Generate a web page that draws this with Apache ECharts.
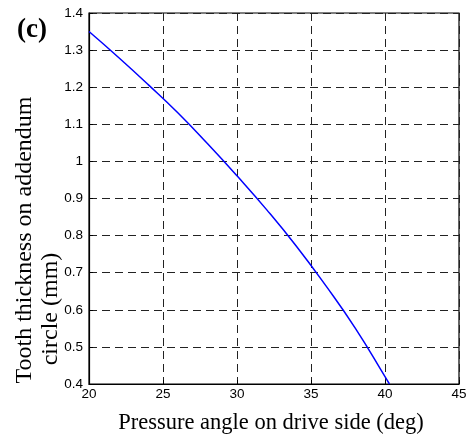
<!DOCTYPE html>
<html>
<head>
<meta charset="utf-8">
<script src="https://cdn.jsdelivr.net/npm/echarts@6/dist/echarts.min.js"></script>
<style>
  html, body { margin: 0; padding: 0; background: #fff; }
  #main { width: 469px; height: 436px; }
</style>
</head>
<body>
<div id="main"></div>
<script>
// pressure angle on drive side (deg)
const angleDeg = [20, 22, 24, 26, 28, 30, 32, 34, 36, 38, 40, 40.3];
// tooth thickness on addendum circle (mm)
const thickness = [1.35, 1.28, 1.207, 1.131, 1.048, 0.961, 0.87, 0.772, 0.665, 0.55, 0.42, 0.4];

const xTicks = [20, 25, 30, 35, 40, 45];
const yTicks = [0.4, 0.5, 0.6, 0.7, 0.8, 0.9, 1, 1.1, 1.2, 1.3, 1.4];

const lineData = angleDeg.map((x, i) => [x, thickness[i]]);

var myChart = echarts.init(document.getElementById("main"));

const gridLine = {
  show: true,
  lineStyle: { color: "#222", width: 1, type: [8, 5] },
};

const tickFont = { fontFamily: "Liberation Sans", fontSize: 13.5, color: "#000" };

var option = {
  animation: false,
  backgroundColor: "#fff",
  grid: {
    left: 89,
    right: 10,
    top: 13,
    bottom: 52,
    outerBoundsMode: "none",
    show: true,
    borderColor: "#000",
    borderWidth: 1.2,
  },
  xAxis: {
    type: "value",
    min: xTicks[0],
    max: xTicks[xTicks.length - 1],
    interval: 5,
    name: "Pressure angle on drive side (deg)",
    nameLocation: "middle",
    nameGap: 28,
    nameTextStyle: { fontFamily: "Liberation Serif", fontSize: 22.5, color: "#000", padding: [0, 6, 0, 0] },
    axisLine: { show: true, lineStyle: { color: "#000", width: 1.2 } },
    axisTick: { inside: true, length: 4, lineStyle: { color: "#000" } },
    axisLabel: Object.assign({ margin: 3 }, tickFont),
    splitLine: gridLine,
  },
  yAxis: {
    type: "value",
    min: yTicks[0],
    max: yTicks[yTicks.length - 1],
    interval: 0.1,
    axisLine: { show: true, lineStyle: { color: "#000", width: 1.2 } },
    axisTick: { inside: true, length: 4, lineStyle: { color: "#000" } },
    axisLabel: Object.assign({
      margin: 6,
      formatter: (v) => String(Math.round(v * 10) / 10),
    }, tickFont),
    splitLine: gridLine,
  },
  graphic: [
    {
      type: "text",
      left: 17,
      top: 17,
      style: {
        text: "(c)",
        font: "bold 27px 'Liberation Serif'",
        fill: "#000",
      },
    },
    {
      // y axis title, first line
      type: "text",
      x: 25,
      y: 240,
      rotation: Math.PI / 2,
      style: {
        text: "Tooth thickness on addendum",
        font: "24px 'Liberation Serif'",
        fill: "#000",
        textAlign: "center",
        textVerticalAlign: "middle",
      },
    },
    {
      // y axis title, second line
      type: "text",
      x: 51,
      y: 309,
      rotation: Math.PI / 2,
      style: {
        text: "circle (mm)",
        font: "24px 'Liberation Serif'",
        fill: "#000",
        textAlign: "center",
        textVerticalAlign: "middle",
      },
    },
  ],
  series: [
    {
      type: "line",
      data: lineData,
      smooth: true,
      symbol: "none",
      lineStyle: { color: "#0000ff", width: 1.5 },
    },
  ],
};

myChart.setOption(option);
</script>
</body>
</html>
